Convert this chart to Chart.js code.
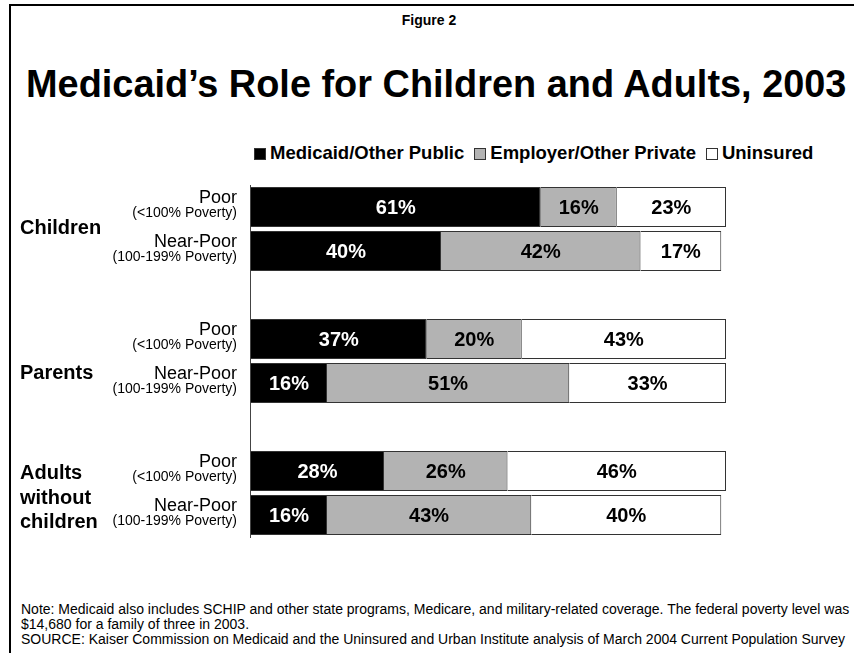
<!DOCTYPE html>
<html lang="en">
<head>
  <meta charset="UTF-8">
  <meta name="viewport" content="width=device-width, initial-scale=1.0">
  <title>Medicaid's Role for Children and Adults, 2003</title>
  <script src="https://cdn.jsdelivr.net/npm/chart.js@4.4.1/dist/chart.umd.min.js"></script>
  <style>
    body { margin: 0; width: 854px; height: 653px; overflow: hidden; background: #fff; position: relative;
           font-family: Arial, "Liberation Sans", sans-serif; color: #000; }
    .frame { position: absolute; left: 9px; top: 4px; width: 900px; height: 700px;
             border-left: 2px solid #000; border-top: 2px solid #000; }
    .fig { position: absolute; left: 2px; top: 13px; width: 854px; text-align: center;
           font-weight: bold; font-size: 14px; line-height: 14px; }
    .title { position: absolute; left: 26px; top: 65px; white-space: nowrap;
             font-weight: bold; font-size: 37.9px; line-height: 38px; }
    .legend { position: absolute; left: 254px; top: 144px; white-space: nowrap;
              font-weight: bold; font-size: 18.5px; line-height: 18px; }
    .legend .item { margin-right: 10px; }
    .legend .box { display: inline-block; width: 10px; height: 10px; border: 1px solid #333;
                   margin-right: 4px; vertical-align: -1px; }
    .notes { position: absolute; left: 21px; top: 602px; white-space: nowrap;
             font-size: 14px; line-height: 15px; }
    canvas { position: absolute; left: 0; top: 180px; }
  </style>
</head>
<body>
  <div class="frame"></div>
  <div class="fig">Figure 2</div>
  <div class="title">Medicaid’s Role for Children and Adults, 2003</div>
  <div class="legend"></div>
  <canvas id="chart" width="854" height="370"></canvas>
  <div class="notes">
    Note: Medicaid also includes SCHIP and other state programs, Medicare, and military-related coverage. The federal poverty level was<br>
    $14,680 for a family of three in 2003.<br>
    SOURCE: Kaiser Commission on Medicaid and the Uninsured and Urban Institute analysis of March 2004 Current Population Survey
  </div>

  <script>
    // groups and income levels (rows: Poor, Near-Poor per group)
    const groups = [['Children'], ['Parents'], ['Adults', 'without', 'children']];
    const incomeLevels = ['Poor', 'Near-Poor'];
    const povertyRanges = ['(<100% Poverty)', '(100-199% Poverty)'];
    const seriesNames = ['Medicaid/Other Public', 'Employer/Other Private', 'Uninsured'];

    // percent of each row, in row order
    const medicaidPublic = [61, 40, 37, 16, 28, 16];
    const employerPrivate = [16, 42, 20, 51, 26, 43];
    const uninsured = [23, 17, 43, 33, 46, 40];

    const colors = ['#000000', '#b3b3b3', '#ffffff'];
    const series = [medicaidPublic, employerPrivate, uninsured];

    // one slot per bar, with an empty slot between the groups
    const slots = [];
    groups.forEach((g, gi) => {
      if (gi > 0) slots.push(null);
      incomeLevels.forEach((lvl, li) => slots.push({ group: gi, level: li, row: gi * incomeLevels.length + li }));
    });
    const labels = slots.map(s => s ? groups[s.group].join(' ') + ' ' + incomeLevels[s.level] : '');
    const spread = values => slots.map(s => s ? values[s.row] : null);

    // legend in the page above the chart
    document.querySelector('.legend').innerHTML = seriesNames.map((name, i) =>
      `<span class="item"><span class="box" style="background:${colors[i]}"></span>${name}</span>`).join('');

    // axis line, row and group names on the left, percentages inside the bars
    const barText = {
      id: 'barText',
      beforeDatasetsDraw(chart) {
        const { ctx, chartArea } = chart;
        ctx.save();
        ctx.strokeStyle = '#444';
        ctx.lineWidth = 1;
        ctx.beginPath();
        ctx.moveTo(chartArea.left - 0.5, chartArea.top);
        ctx.lineTo(chartArea.left - 0.5, chartArea.bottom + 1);
        ctx.stroke();
        ctx.restore();
      },
      afterDatasetsDraw(chart) {
        const { ctx } = chart;
        const y = chart.scales.y;
        ctx.save();
        ctx.fillStyle = '#000';
        ctx.textAlign = 'right';
        slots.forEach((s, i) => {
          if (!s) return;
          const py = y.getPixelForValue(i);
          ctx.font = '18px Arial, "Liberation Sans", sans-serif';
          ctx.fillText(incomeLevels[s.level], 237, py - 4);
          ctx.font = '14px Arial, "Liberation Sans", sans-serif';
          ctx.fillText(povertyRanges[s.level], 237, py + 10);
        });

        // group names, left aligned
        const groupShift = [5, 18, -14];
        ctx.textAlign = 'left';
        ctx.font = 'bold 20px Arial, "Liberation Sans", sans-serif';
        groups.forEach((lines, gi) => {
          const idx = slots.map((s, i) => s && s.group === gi ? i : -1).filter(i => i >= 0);
          const mid = (y.getPixelForValue(idx[0]) + y.getPixelForValue(idx[idx.length - 1])) / 2;
          lines.forEach((line, li) => ctx.fillText(line, 20, mid + groupShift[gi] + li * 24.5));
        });

        // percent labels centred in each segment
        ctx.textAlign = 'center';
        ctx.font = 'bold 20px Arial, "Liberation Sans", sans-serif';
        chart.data.datasets.forEach((ds, d) => {
          ctx.fillStyle = d === 0 ? '#fff' : '#000';
          chart.getDatasetMeta(d).data.forEach((bar, j) => {
            const v = ds.data[j];
            if (v == null) return;
            const p = bar.getProps(['x', 'base', 'y'], true);
            ctx.fillText(v + '%', (p.x + p.base) / 2, p.y + 7);
          });
        });
        ctx.restore();
      }
    };

    new Chart(document.getElementById('chart'), {
      type: 'bar',
      data: {
        labels: labels,
        datasets: series.map((vals, i) => ({
          label: seriesNames[i],
          data: spread(vals),
          backgroundColor: colors[i],
          borderColor: '#333',
          borderWidth: 1,
          borderSkipped: 'start',
          barPercentage: 40 / 44,
          categoryPercentage: 1
        }))
      },
      options: {
        indexAxis: 'y',
        responsive: false,
        animation: false,
        layout: { padding: { left: 251, right: 128, top: 5, bottom: 13 } },
        scales: {
          x: { stacked: true, min: 0, max: 100, display: false },
          y: { stacked: true, display: false }
        },
        plugins: {
          legend: { display: false },
          tooltip: { enabled: false }
        }
      },
      plugins: [barText]
    });
  </script>
</body>
</html>
